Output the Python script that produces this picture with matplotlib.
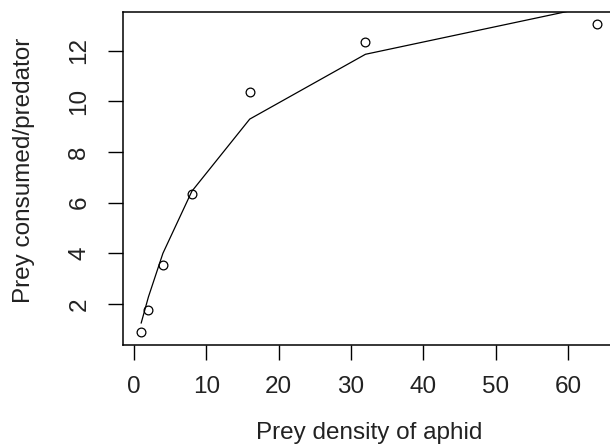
import matplotlib
matplotlib.use("Agg")
import matplotlib.pyplot as plt

# Prey density (aphids offered) and observed consumption per predator
density = [1, 2, 4, 8, 16, 32, 64]
consumed = [0.88, 1.78, 3.53, 6.33, 10.36, 12.36, 13.05]
# Fitted functional response curve at the same densities
fitted = [1.25, 2.28, 4.0, 6.45, 9.3, 11.86, 13.8]

xTicks = [0, 10, 20, 30, 40, 50, 60]
yTicks = [2, 4, 6, 8, 10, 12]

plt.rcParams["font.family"] = ["Liberation Sans", "DejaVu Sans"]

fig = plt.figure(figsize=(6.1, 4.44), dpi=100)
ax = fig.add_axes([0.2016, 0.223, 0.8069, 0.750])

ax.plot(density, consumed, linestyle="none", marker="o", markersize=6.3,
        markerfacecolor="none", markeredgecolor="black", markeredgewidth=0.9)
ax.plot(density, fitted, color="black", linewidth=0.9)

ax.set_xlim(-1.52, 66.52)
ax.set_ylim(0.38, 13.53)

ax.set_xticks(xTicks)
ax.set_yticks(yTicks)
ax.tick_params(axis="both", direction="out", length=10.5, width=1.0,
               labelsize=17.5, color="black", labelcolor="#222222")
ax.tick_params(axis="x", pad=12)
ax.tick_params(axis="y", pad=13)
for lbl in ax.get_yticklabels():
    lbl.set_rotation(90)
    lbl.set_va("center")

for side in ["left", "bottom", "top", "right"]:
    ax.spines[side].set_linewidth(1.1)

ax.set_xlabel("Prey density of aphid", fontsize=17.5, color="#222222")
ax.set_ylabel("Prey consumed/predator", fontsize=17.5, color="#222222")
ax.xaxis.set_label_coords(0.5, -0.23)
ax.yaxis.set_label_coords(-0.178, 0.525)

fig.savefig("out.png", dpi=100)
